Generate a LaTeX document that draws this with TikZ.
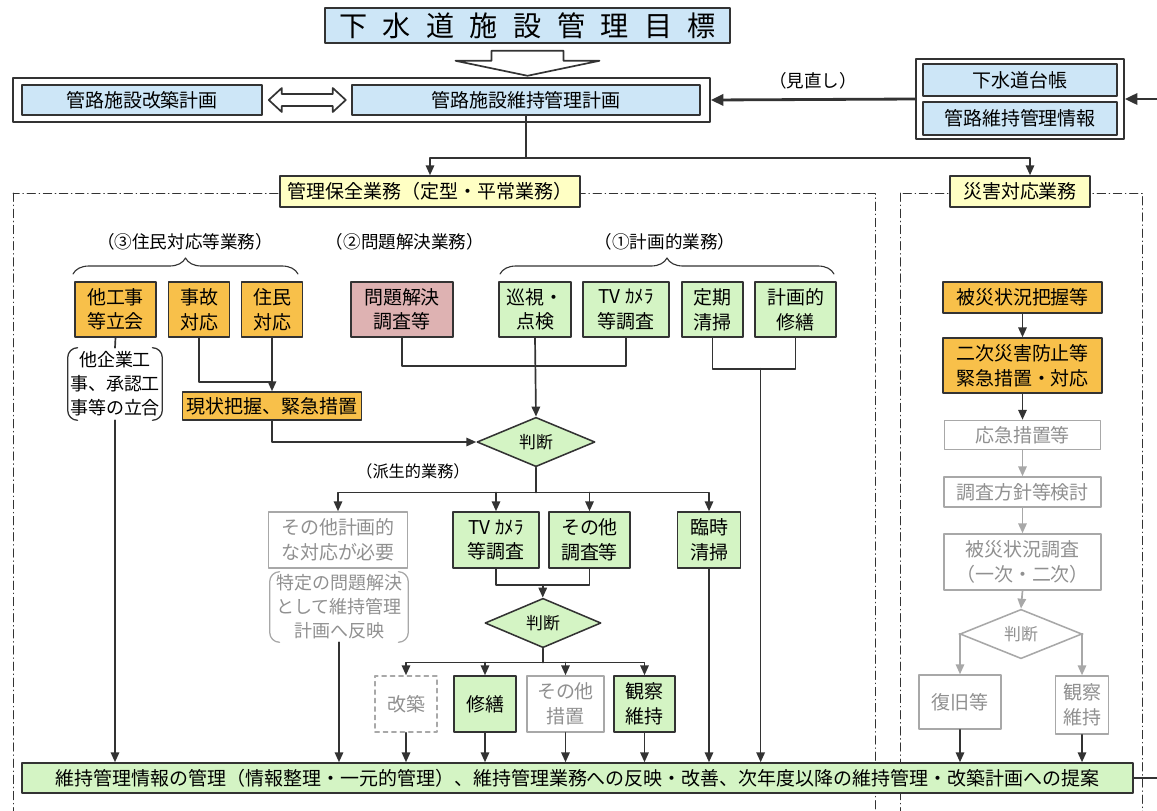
\documentclass[tikz,border=0pt]{standalone}
\usepackage{fontspec}
\setmainfont{Noto Sans CJK JP}
\usetikzlibrary{arrows.meta,shapes.geometric,calc,decorations.pathreplacing}
\definecolor{xanhnhat}{HTML}{CDE6F7}
\definecolor{vangnhat}{HTML}{FFFFC4}
\definecolor{cam}{HTML}{F8C04A}
\definecolor{laxanh}{HTML}{D4F4C4}
\definecolor{hongnhat}{HTML}{DEB2B2}
\definecolor{vien}{HTML}{333333}
\definecolor{xamvien}{HTML}{A8A8A8}
\definecolor{xamchu}{HTML}{909090}
\begin{document}
\begin{tikzpicture}[x=0.025cm, y=-0.025cm, line join=round, line cap=round, >={Triangle[length=7pt,width=6pt]},
	font=\fontsize{13.5}{17.5}\selectfont,
	kt/.style n args={2}{minimum width=#1*0.025cm, minimum height=#2*0.025cm},
	hop/.style={draw=vien, line width=1.1pt, inner sep=0pt, align=center},
	xanh/.style={hop, fill=xanhnhat},
	vang/.style={hop, fill=vangnhat},
	hcam/.style={hop, fill=cam},
	la/.style={hop, fill=laxanh},
	hong/.style={hop, fill=hongnhat},
	xam/.style={hop, draw=xamvien, text=xamchu, fill=white},
	thoi/.style={diamond, draw=vien, line width=1.1pt, fill=laxanh, inner sep=0pt, font=\fontsize{12}{14}\selectfont},
	khung/.style={draw=vien, line width=0.6pt, dash pattern=on 6pt off 2.5pt on 0.5pt off 2.5pt},
	noi/.style={draw=vien, line width=1.2pt},
	muiten/.style={->, noi},
	xammt/.style={->, draw=xamvien, line width=1.2pt},
	dam/.style={->, draw=vien, line width=2pt, >={Triangle[length=9pt,width=8pt]}},
	ngoac/.style={draw=vien, line width=0.9pt, rounded corners=7pt},
	nhan/.style={font=\fontsize{12.5}{15}\selectfont},
	]
	%Khung hình.
	\useasboundingbox (0,0) rectangle (1157,810);
	\clip (0,0) rectangle (1157,810);
	\draw[khung] (13,193) rectangle (875,830);
	\draw[khung] (900,193) rectangle (1142,830);
	%Phần trên.
	\node[xanh, kt={405}{35}, font=\fontsize{20}{24}\selectfont] (ttl) at (527.5,25.5) {下\kern11pt 水\kern11pt 道\kern11pt 施\kern11pt 設\kern11pt 管\kern11pt 理\kern11pt 目\kern11pt 標};
	\draw[noi, fill=white, shift={(ttl.south)}] (-36,7) -- (36,7) -- (36,17) -- (72,17) -- (0,32) -- (-72,17) -- (-36,17) -- cycle;
	\node[hop, fill=white, kt={697}{44}] (ngoai) at (361.5,100) {};
	\node[xanh, kt={240}{30}] (kc) at (142,100) {管路施設改築計画};
	\node[xanh, kt={348}{30}] (kh) at (526,100) {管路施設維持管理計画};
	\draw[noi, fill=white, shift={(kc.east)}] (6,0) -- (19,-12) -- (19,-6) -- (70,-6) -- (70,-12) -- (83,0) -- (70,12) -- (70,6) -- (19,6) -- (19,12) -- cycle;
	\node[hop, fill=white, kt={208}{80}] (tb) at (1020,99) {};
	\node[xanh, kt={194}{32}] (dc) at (1020,80) {下水道台帳};
	\node[xanh, kt={194}{33}] (tt) at (1020,118.5) {管路維持管理情報};
	\node[vang, kt={300}{31}] (kn) at (430,191.5) {管理保全業務（定型・平常業務）};
	\node[vang, kt={140}{31}] (sg) at (1020,191.5) {災害対応業務};
	%Nhãn và ngoặc.
	\node[nhan] (l3) at (185,242) {（③住民対応等業務）};
	\node[nhan] (l2) at (405,242) {（②問題解決業務）};
	\node[nhan] (l1) at (665,242) {（①計画的業務）};
	\draw[noi, line width=0.8pt, decorate, decoration={brace, amplitude=0.4cm}] (73,274) -- (298,274);
	\draw[noi, line width=0.8pt, decorate, decoration={brace, amplitude=0.4cm}] (500,274) -- (834,274);
	%Cột trái.
	\node[hcam, kt={81}{55}] (tcs) at (115.5,309.5) {他工事\\等立会};
	\node[hcam, kt={61}{55}] (jk) at (199,309.5) {事故\\対応};
	\node[hcam, kt={61}{55}] (jm) at (272,309.5) {住民\\対応};
	\node[align=center, inner sep=0pt, kt={94}{72}, font=\fontsize{12.8}{17}\selectfont] (nt1) at (115,384) {他企業工\\事、承認工\\事等の立合};
	\node[hcam, kt={179}{28}] (ht) at (272,406) {現状把握、緊急措置};
	%Cột giữa.
	\node[hong, kt={102}{55}] (vd) at (402,309.5) {問題解決\\調査等};
	\node[la, kt={72}{55}] (tk) at (535,309.5) {巡視・\\点検};
	\node[la, kt={86}{55}] (tv) at (626,309.5) {TV ｶﾒﾗ\\等調査};
	\node[la, kt={61}{55}] (dk) at (712.5,309.5) {定期\\清掃};
	\node[la, kt={81}{55}] (sc) at (795.5,309.5) {計画的\\修繕};
	\node[thoi, kt={118}{40}] (pd1) at (536,442) {判断};
	\node[font=\fontsize{11.5}{14}\selectfont] (ps) at (413,471) {（派生的業務）};
	\node[xam, kt={139}{56}] (kh2) at (338,540) {その他計画的\\な対応が必要};
	\node[align=center, inner sep=0pt, text=xamchu, kt={138}{70}, font=\fontsize{12.8}{17}\selectfont] (nt2) at (339,607) {特定の問題解決\\として維持管理\\計画へ反映};
	\node[la, kt={86}{56}] (tv2) at (496,540) {TV ｶﾒﾗ\\等調査};
	\node[la, kt={81}{56}] (ck) at (589.5,540) {その他\\調査等};
	\node[la, kt={63}{56}] (lt) at (709,540) {臨時\\清掃};
	\node[thoi, kt={116}{40}] (pd2) at (543,623) {判断};
	\node[xam, dashed, kt={62}{56}] (cc) at (406,704) {改築};
	\node[la, kt={62}{56}] (st) at (485,704) {修繕};
	\node[xam, kt={77}{56}] (ks) at (565.5,704) {その他\\措置};
	\node[la, kt={61}{56}] (qs) at (644.5,704) {観察\\維持};
	\node[la, kt={1111}{30}] (thanh) at (577.5,778) {維持管理情報の管理（情報整理・一元的管理）、維持管理業務への反映・改善、次年度以降の維持管理・改築計画への提案};
	%Cột phải.
	\node[hcam, kt={159}{31}] (bh) at (1022.5,297.5) {被災状況把握等};
	\node[hcam, kt={159}{55}] (nj) at (1022.5,365.5) {二次災害防止等\\緊急措置・対応};
	\node[xam, kt={156}{29}] (uk) at (1022.5,435) {応急措置等};
	\node[xam, kt={157}{30}] (ch) at (1022.5,492) {調査方針等検討};
	\node[xam, kt={157}{56}] (dt) at (1022.5,562) {被災状況調査\\（一次・二次）};
	\node[thoi, draw=xamvien, fill=white, text=xamchu, kt={122}{41}] (pd3) at (1021,634) {判断};
	\node[xam, kt={82}{54}] (pk) at (960,702) {復旧等};
	\node[xam, kt={53}{58}] (qs2) at (1082,705) {観察\\維持};
	%Ngoặc tròn.
	\draw[ngoac] ([xshift=7pt]nt1.north west) -- (nt1.north west) -- (nt1.south west) -- ([xshift=7pt]nt1.south west);
	\draw[ngoac] ([xshift=-7pt]nt1.north east) -- (nt1.north east) -- (nt1.south east) -- ([xshift=-7pt]nt1.south east);
	\draw[ngoac, draw=xamvien] ([xshift=7pt]nt2.north west) -- (nt2.north west) -- (nt2.south west) -- ([xshift=7pt]nt2.south west);
	\draw[ngoac, draw=xamvien] ([xshift=-7pt]nt2.north east) -- (nt2.north east) -- (nt2.south east) -- ([xshift=-7pt]nt2.south east);
	%Đường nối phần trên.
	\draw[dam] (tb.west) -- (ngoai.east) node[midway, above=3pt, nhan, text=black] {（見直し）};
	\draw[dam] (thanh.east) -- ++(60,0) |- (tb.east);
	\draw[noi] (kh.south) -- ++(0,42) coordinate (r1);
	\draw[muiten] (r1) -| (kn.north);
	\draw[muiten] (r1) -| ([xshift=0.25cm]sg.north);
	%Đường nối cột trái.
	\draw[noi] (tcs.south) -- (nt1.north);
	\draw[muiten] (nt1.south) -- (nt1.south |- thanh.north);
	\draw[noi] (jk.south) |- ($(jm.south)+(0,44)$);
	\draw[muiten] (jm.south) -- (ht.north);
	\draw[muiten] (ht.south) |- (pd1.west);
	%Đường nối cột giữa.
	\draw[noi] (vd.south) -- ++(0,28) -| (tv.south);
	\draw[muiten] (tk.south) -- (pd1.north);
	\draw[noi] (dk.south) -- ++(0,31) -| (sc.south);
	\coordinate (g1) at ($(dk.south)!0.58!(sc.south)+(0,31)$);
	\draw[muiten] (g1) -- (g1 |- thanh.north);
	\draw[noi] (pd1.south) -- ++(0,25) coordinate (g2);
	\draw[muiten] (g2) -| (kh2.north);
	\draw[muiten] (g2) -| (lt.north);
	\draw[muiten] (g2 -| tv2.north) -- (tv2.north);
	\draw[muiten] (g2 -| ck.north) -- (ck.north);
	\draw[muiten] (nt2.south) -- (nt2.south |- thanh.north);
	\draw[noi] (tv2.south) -- ++(0,16) -| (ck.south);
	\coordinate (g3) at ($(tv2.south)!0.5!(ck.south)+(0,16)$);
	\draw[muiten] (g3) -- (g3 |- pd2.north);
	\draw[noi] (pd2.south) -- ++(0,14) coordinate (g4);
	\draw[muiten] (g4) -| (cc.north);
	\draw[muiten] (g4) -| (qs.north);
	\draw[muiten] (g4 -| st.north) -- (st.north);
	\draw[muiten] (g4 -| ks.north) -- (ks.north);
	\foreach \n in {cc,st,ks,qs,lt,pk,qs2}
		\draw[muiten] (\n.south) -- (\n.south |- thanh.north);
	%Đường nối cột phải.
	\draw[muiten] (bh.south) -- (nj.north);
	\draw[muiten] (nj.south) -- (uk.north);
	\draw[xammt] (uk.south) -- (ch.north);
	\draw[xammt] (ch.south) -- (dt.north);
	\draw[xammt] (dt.south) -- (pd3.north);
	\draw[xammt] (pd3.west) -| (pk.north);
	\draw[xammt] (pd3.east) -| (qs2.north);
\end{tikzpicture}
\end{document}
